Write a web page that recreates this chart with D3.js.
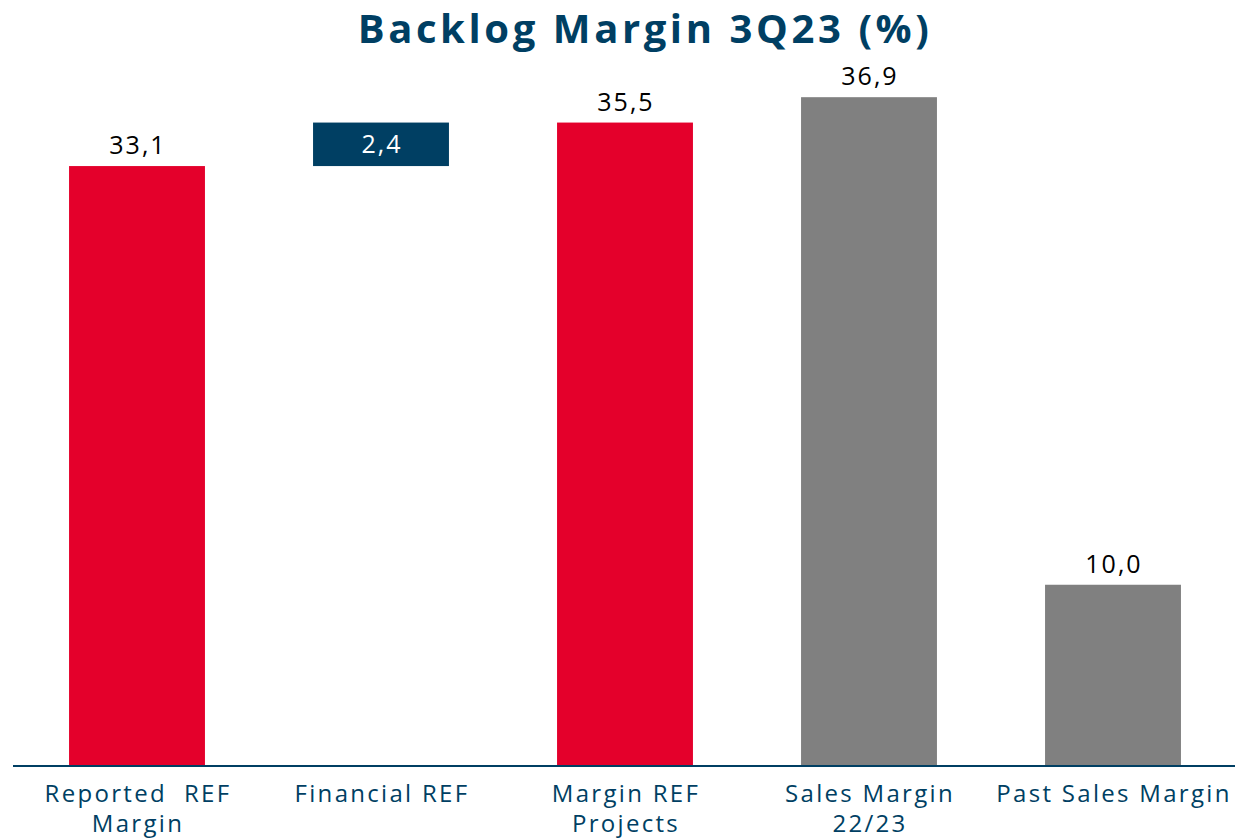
<!DOCTYPE html>
<html>
<head>
<meta charset="utf-8">
<script src="https://cdn.jsdelivr.net/npm/d3@7"></script>
<style>
body { margin: 0; background: #fff; }
text { font-family: "Open Sans", Lato, sans-serif; }
</style>
</head>
<body>
<div id="chart"></div>
<script>
var width = 1235;
var height = 838;

// chart data
var categories = ["Reported  REF|Margin", "Financial REF", "Margin REF|Projects", "Sales Margin|22/23", "Past Sales Margin"];
var barStart = [0, 33.1, 0, 0, 0];   // floating bar starts where the first one ends
var barEnd = [33.1, 35.5, 35.5, 36.9, 10.0];
var valueLabels = ["33,1", "2,4", "35,5", "36,9", "10,0"];
var barColors = ["#E4002B", "#003F63", "#E4002B", "#808080", "#808080"];

var svg = d3.select("#chart").append("svg")
    .attr("width", width)
    .attr("height", height);

var x = d3.scaleBand()
    .domain(categories)
    .range([15, 1235])
    .paddingInner(0.443)
    .paddingOuter(0.2215);

var y = d3.scaleLinear()
    .domain([0, 40])
    .range([766, 41]);

/* title */
svg.append("text")
    .attr("x", 645)
    .attr("y", 43)
    .attr("text-anchor", "middle")
    .attr("font-size", 40)
    .attr("font-weight", "bold")
    .attr("letter-spacing", 3.6)
    .attr("fill", "#003F63")
    .text("Backlog Margin 3Q23 (%)");

var bars = svg.selectAll("g.bar")
    .data(categories)
    .enter()
    .append("g")
    .attr("class", "bar");

bars.append("rect")
    .attr("x", function (d) { return x(d); })
    .attr("y", function (d, i) { return y(barEnd[i]); })
    .attr("width", x.bandwidth())
    .attr("height", function (d, i) { return y(barStart[i]) - y(barEnd[i]); })
    .attr("fill", function (d, i) { return barColors[i]; });

// value labels, the floating bar gets its label inside
bars.append("text")
    .attr("x", function (d) { return x(d) + x.bandwidth() / 2 + 1; })
    .attr("y", function (d, i) {
        if (barStart[i] > 0) { return (y(barStart[i]) + y(barEnd[i])) / 2 + 9; }
        return y(barEnd[i]) - 12;
    })
    .attr("text-anchor", "middle")
    .attr("font-size", 25)
    .attr("letter-spacing", 2)
    .attr("fill", function (d, i) { return barStart[i] > 0 ? "#fff" : "#000"; })
    .text(function (d, i) { return valueLabels[i]; });

/* x axis */
var xAxis = svg.append("g")
    .attr("transform", "translate(0," + y(0) + ")")
    .call(d3.axisBottom(x).tickSize(0).tickFormat(""));

xAxis.select(".domain")
    .attr("d", "M13,0H1235")
    .attr("stroke", "#003F63")
    .attr("stroke-width", 2);

xAxis.selectAll(".tick").each(function (d) {
    var lines = d.split("|");
    var t = d3.select(this).append("text")
        .attr("text-anchor", "middle")
        .attr("font-size", 24)
        .attr("letter-spacing", 2.3)
        .attr("fill", "#003F63");
    lines.forEach(function (l, i) {
        t.append("tspan")
            .attr("x", 1)
            .attr("y", 36 + i * 30)
            .attr("xml:space", "preserve")
            .text(l);
    });
});
</script>
</body>
</html>
